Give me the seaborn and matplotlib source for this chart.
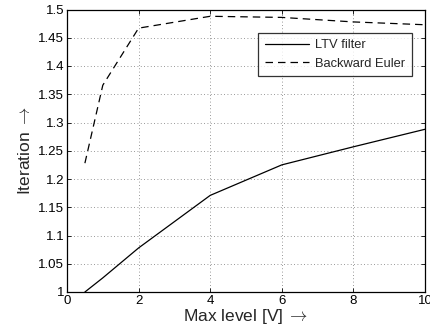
import matplotlib
matplotlib.use("Agg")
import matplotlib.pyplot as plt
import seaborn as sns
import pandas as pd

x_ltv = [0.5, 1, 2, 4, 6, 8, 10]
y_ltv = [1.0, 1.025, 1.078, 1.171, 1.225, 1.257, 1.288]
x_be = [0.5, 1, 2, 4, 6, 8, 10]
y_be = [1.228, 1.366, 1.467, 1.488, 1.486, 1.478, 1.473]
series = ["LTV filter", "Backward Euler"]

sns.set_theme(style="white")
plt.rcParams['font.family'] = ['Liberation Sans', 'DejaVu Sans']
plt.rcParams['mathtext.fontset'] = 'cm'

df = pd.concat([
    pd.DataFrame({"x": x_ltv, "y": y_ltv, "s": series[0]}),
    pd.DataFrame({"x": x_be, "y": y_be, "s": series[1]}),
])

fig = plt.figure(figsize=(4.31, 3.31), dpi=100)
ax = fig.add_axes([67/431, 1 - 292/331, (425-67)/431, (292-9.5)/331])
sns.lineplot(data=df, x="x", y="y", hue="s", style="s",
             palette={series[0]: "black", series[1]: "black"},
             dashes={series[0]: "", series[1]: (6, 4)},
             linewidth=0.9, ax=ax, sort=False)
ax.set_xlim(0, 10)
ax.set_ylim(1, 1.5)
ax.set_xticks([0, 2, 4, 6, 8, 10])
ax.set_yticks([1, 1.05, 1.1, 1.15, 1.2, 1.25, 1.3, 1.35, 1.4, 1.45, 1.5])
ax.set_yticklabels(["1", "1.05", "1.1", "1.15", "1.2", "1.25", "1.3", "1.35", "1.4", "1.45", "1.5"])
ax.grid(True, linestyle=(0, (1, 3)), color="#777777", linewidth=0.6)
for sp in ax.spines.values():
    sp.set_color("black")
    sp.set_linewidth(0.9)
ax.tick_params(direction="in", length=3, width=0.6, labelsize=9.5, colors="black", pad=2,
               top=True, right=True, bottom=True, left=True)
ax.set_xlabel(r"Max level [V]$\;\rightarrow$", fontsize=12.5, labelpad=0)
ax.set_ylabel(r"Iteration$\;\rightarrow$", fontsize=12.5, labelpad=4)
leg = ax.legend(loc="upper right", bbox_to_anchor=(0.963, 0.917), fontsize=9.3,
                frameon=True, fancybox=False, edgecolor="black", borderpad=0.5,
                borderaxespad=0, handlelength=3.4, handletextpad=0.5, labelspacing=0.5)
leg.get_frame().set_linewidth(0.9)
leg.set_title(None)
fig.savefig("out.png", dpi=100)
